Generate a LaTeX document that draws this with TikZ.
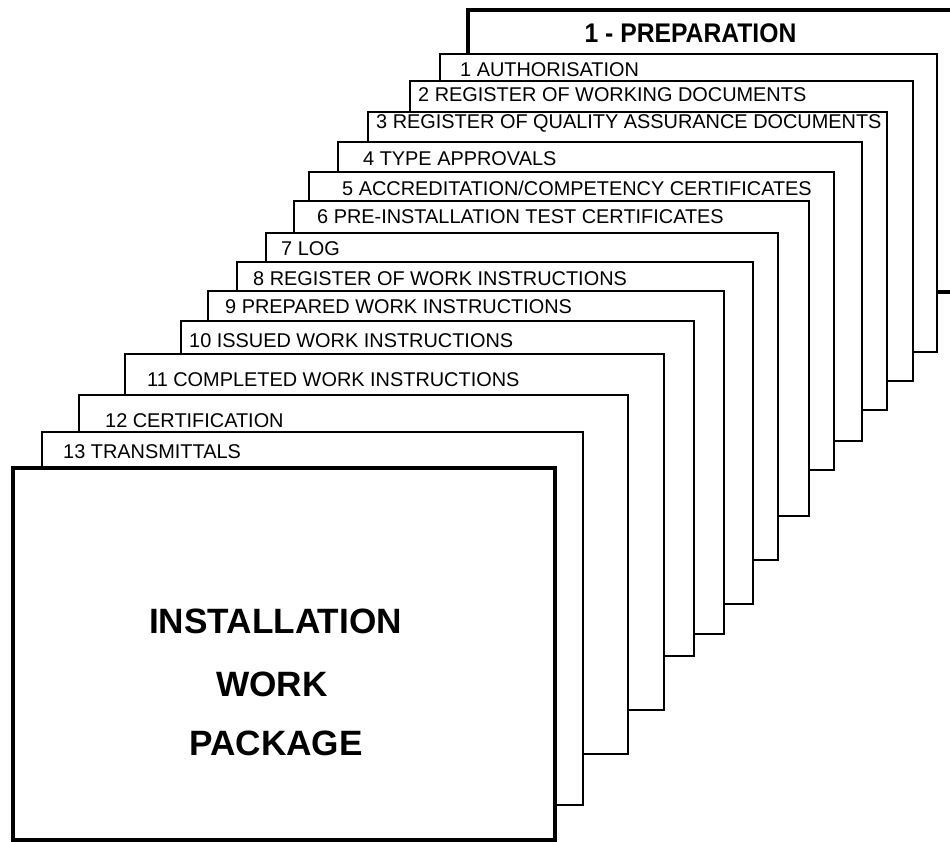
\documentclass[tikz,border=0pt]{standalone}
\usepackage{fontspec}
\setmainfont{Liberation Sans}
\tikzset{
  cardbox/.style={draw=black, fill=white, line width=2pt, rectangle, inner sep=0pt, outer sep=0pt, anchor=north west},
  thickbox/.style={cardbox, line width=4.5pt},
  lbl/.style={inner sep=0pt, anchor=base west, font=\fontsize{19.9}{22}\selectfont},
  titlelbl/.style={inner sep=0pt, anchor=base, font=\bfseries\fontsize{24.7}{27}\selectfont},
  biglbl/.style={inner sep=0pt, anchor=base, font=\bfseries\fontsize{35.2}{38}\selectfont}
}
% name, left, top, right, bottom, text x, baseline, text
\newcommand\mkcard[8]{%
  \node[cardbox, minimum width={(#4-#2)*1pt}, minimum height={(#5-#3)*1pt}] (#1) at (#2,#3) {};
  \node[lbl] (#1t) at (#6,#7) {#8};
}
\begin{document}
\begin{tikzpicture}[x=1pt,y=-1pt]
\useasboundingbox (0,0) rectangle (950,842);
\clip (0,0) rectangle (950,842);
% back card
\node[thickbox, minimum width=500pt, minimum height=282pt] (c0) at (468,10) {};
\node[titlelbl] (c0t) at (690.5,43) {\scalebox{1}[1.09]{1 - PREPARATION}};
\mkcard{c1}{440}{54}{937}{352}{460}{77}{1 AUTHORISATION}
\mkcard{c2}{410}{81}{913}{381}{418}{102}{2 REGISTER OF WORKING DOCUMENTS}
\mkcard{c3}{368}{112}{887}{410}{376}{129}{3 REGISTER OF QUALITY ASSURANCE DOCUMENTS}
\mkcard{c4}{338}{142}{862}{441}{363}{166}{4 TYPE APPROVALS}
\mkcard{c5}{309}{172}{834}{470}{342}{196}{5 ACCREDITATION/COMPETENCY CERTIFICATES}
\mkcard{c6}{294}{201}{809}{516}{317}{224}{6 PRE-INSTALLATION TEST CERTIFICATES}
\mkcard{c7}{266}{233}{778}{560}{281}{256}{7 LOG}
\mkcard{c8}{237}{262}{753}{604}{253}{285}{8 REGISTER OF WORK INSTRUCTIONS}
\mkcard{c9}{208}{291}{724}{634}{225}{313}{9 PREPARED WORK INSTRUCTIONS}
\mkcard{c10}{181}{321}{694}{656}{189}{347}{10 ISSUED WORK INSTRUCTIONS}
\mkcard{c11}{125}{354}{664}{710}{147}{386}{11 COMPLETED WORK INSTRUCTIONS}
\mkcard{c12}{79}{395}{628}{754}{105}{427}{12 CERTIFICATION}
\mkcard{c13}{42}{432}{583}{805}{63}{458}{13 TRANSMITTALS}
% front card
\node[thickbox, minimum width=542pt, minimum height=372pt] (main) at (13,468) {};
\node[biglbl] (m1) at (275.5,633) {INSTALLATION};
\node[biglbl] (m2) at (272,696) {WORK};
\node[biglbl] (m3) at (276,755) {PACKAGE};
\end{tikzpicture}
\end{document}
